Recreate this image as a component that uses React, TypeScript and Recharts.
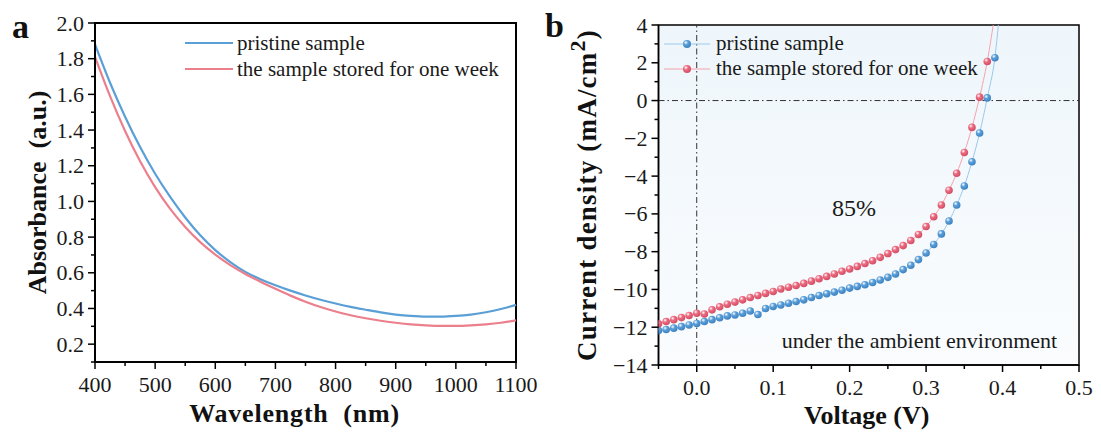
import React from "react";
import {
  LineChart,
  Line,
  XAxis,
  YAxis,
  CartesianGrid,
  ReferenceLine,
  ReferenceArea,
  Legend,
} from "recharts";

const SERIF = '"Liberation Serif", "Times New Roman", serif';

// panel a: absorbance spectra
const wavelength = [
  400, 425, 450, 475, 500, 525, 550, 575, 600, 625, 650, 675, 700, 725, 750,
  775, 800, 825, 850, 875, 900, 925, 950, 975, 1000, 1025, 1050, 1075, 1100,
];
const absPristine = [
  1.88, 1.665, 1.475, 1.305, 1.155, 1.025, 0.91, 0.81, 0.727, 0.66, 0.605,
  0.564, 0.53, 0.5, 0.473, 0.449, 0.428, 0.409, 0.393, 0.378, 0.366, 0.358,
  0.354, 0.354, 0.358, 0.366, 0.379, 0.397, 0.42,
];
const absStored = [
  1.81, 1.59, 1.395, 1.225, 1.08, 0.958, 0.857, 0.772, 0.702, 0.643, 0.593,
  0.55, 0.51, 0.472, 0.438, 0.408, 0.383, 0.362, 0.345, 0.331, 0.32, 0.311,
  0.305, 0.302, 0.302, 0.305, 0.311, 0.32, 0.333,
];
const wlTicks = [
  400, 450, 500, 550, 600, 650, 700, 750, 800, 850, 900, 950, 1000, 1050, 1100,
];
const absTicks = [
  0.1, 0.2, 0.3, 0.4, 0.5, 0.6, 0.7, 0.8, 0.9, 1.0, 1.1, 1.2, 1.3, 1.4, 1.5, 1.6,
  1.7, 1.8, 1.9, 2.0,
];

// panel b: J-V curves
const voltage = [
  -0.05, -0.04, -0.03, -0.02, -0.01, 0.0, 0.01, 0.02, 0.03, 0.04, 0.05, 0.06,
  0.07, 0.08, 0.09, 0.1, 0.11, 0.12, 0.13, 0.14, 0.15, 0.16, 0.17, 0.18, 0.19,
  0.2, 0.21, 0.22, 0.23, 0.24, 0.25, 0.26, 0.27, 0.28, 0.29, 0.3, 0.31, 0.32,
  0.33, 0.34, 0.35, 0.36, 0.37, 0.38, 0.39,
];
const jPristine = [
  -12.18, -12.12, -12.05, -11.97, -11.88, -11.8, -11.7, -11.6, -11.5, -11.4,
  -11.35, -11.26, -11.14, -11.33, -11.01, -10.9, -10.82, -10.73, -10.64, -10.55,
  -10.43, -10.32, -10.23, -10.14, -10.04, -9.93, -9.84, -9.75, -9.63, -9.5,
  -9.36, -9.18, -8.95, -8.72, -8.42, -8.07, -7.62, -7.06, -6.38, -5.53, -4.52,
  -3.24, -1.72, 0.14, 2.27,
];
const jStored = [
  -11.82, -11.7, -11.6, -11.49, -11.38, -11.26, -11.3, -11.08, -10.92, -10.78,
  -10.67, -10.55, -10.43, -10.32, -10.21, -10.11, -9.98, -9.88, -9.79, -9.68,
  -9.56, -9.43, -9.31, -9.18, -9.04, -8.92, -8.78, -8.63, -8.48, -8.3, -8.1,
  -7.89, -7.68, -7.41, -7.09, -6.67, -6.15, -5.53, -4.75, -3.85, -2.75, -1.42,
  0.18, 2.07,
];
// where the fitted lines leave the top of the frame
const pristineTail = { v: 0.4, j: 6.6 };
const storedTail = { v: 0.39, j: 4.6 };
const vTicks = [
  -0.05, 0, 0.05, 0.1, 0.15, 0.2, 0.25, 0.3, 0.35, 0.4, 0.45, 0.5,
];
const jTicks = [
  -14, -13, -12, -11, -10, -9, -8, -7, -6, -5, -4, -3, -2, -1, 0, 1, 2, 3, 4,
];

const absData = wavelength.map((wl, i) => ({
  wl,
  pristine: absPristine[i],
  stored: absStored[i],
}));
const pristineIV = voltage
  .map((v, i) => ({ v, j: jPristine[i] }))
  .concat([pristineTail]);
const storedIV = voltage
  .slice(0, jStored.length)
  .map((v, i) => ({ v, j: jStored[i] }))
  .concat([storedTail]);

const seriesA = [
  { key: "pristine", name: "pristine sample", color: "#5a9fd6" },
  { key: "stored", name: "the sample stored for one week", color: "#ec7f8c" },
];
const seriesB = [
  { name: "pristine sample", line: "#9cc8ec", grad: "ballBlue", base: "#5a9fd8", edge: "#3b7fbf" },
  { name: "the sample stored for one week", line: "#f4a2ad", grad: "ballRed", base: "#ec6b81", edge: "#cf4c63" },
];

const isMajor = (v: number, step: number) =>
  Math.abs(v / step - Math.round(v / step)) < 1e-6;

const fmtNum = (v: number, digits: number) => {
  const s = Math.abs(v).toFixed(digits);
  return v < -1e-9 ? "\u2212" + s : s;
};

const XTick = (props: any) => {
  const { x, y, payload, step, digits, dy } = props;
  const major = isMajor(payload.value, step);
  return (
    <g>
      <line x1={x} x2={x} y1={y} y2={y + (major ? 7 : 4)} stroke="#000" strokeWidth={1.5} />
      {major && (
        <text x={x} y={y + dy} textAnchor="middle" fontFamily={SERIF} fontSize={22} fill="#1a1a1a">
          {fmtNum(payload.value, digits)}
        </text>
      )}
    </g>
  );
};

const YTick = (props: any) => {
  const { x, y, payload, step, digits } = props;
  const major = isMajor(payload.value, step);
  return (
    <g>
      <line x1={x} x2={x - (major ? 7 : 4)} y1={y} y2={y} stroke="#000" strokeWidth={1.5} />
      {major && (
        <text x={x - 11} y={y + 7.5} textAnchor="end" fontFamily={SERIF} fontSize={22} fill="#1a1a1a">
          {fmtNum(payload.value, digits)}
        </text>
      )}
    </g>
  );
};

const BallGradient = ({ id, base, edge }: { id: string; base: string; edge: string }) => (
  <radialGradient id={id} cx="36%" cy="32%" r="72%">
    <stop offset="0%" stopColor="#ffffff" />
    <stop offset="38%" stopColor={base} />
    <stop offset="100%" stopColor={edge} />
  </radialGradient>
);

const ballDot = (grad: string, count: number) => (props: any) => {
  const { cx, cy, index } = props;
  if (index >= count || cx == null || cy == null) return <g key={`d-${index}`} />;
  return <circle key={`d-${index}`} cx={cx} cy={cy} r={3.8} fill={`url(#${grad})`} />;
};

const LegendA = () => (
  <div style={{ fontFamily: SERIF, fontSize: 21, color: "#1a1a1a" }}>
    {seriesA.map((s) => (
      <div key={s.key} style={{ display: "flex", alignItems: "center", height: 26.3, whiteSpace: "nowrap" }}>
        <svg width={52} height={26}>
          <line x1={0} x2={48} y1={13} y2={13} stroke={s.color} strokeWidth={2.2} />
        </svg>
        <span>{s.name}</span>
      </div>
    ))}
  </div>
);

const LegendB = () => (
  <div style={{ fontFamily: SERIF, fontSize: 21, color: "#1a1a1a" }}>
    {seriesB.map((s) => (
      <div key={s.grad} style={{ display: "flex", alignItems: "center", height: 25.3, whiteSpace: "nowrap" }}>
        <svg width={52} height={26}>
          <defs>
            <BallGradient id={`${s.grad}L`} base={s.base} edge={s.edge} />
          </defs>
          <line x1={0} x2={46} y1={13} y2={13} stroke={s.line} strokeWidth={1} />
          <circle cx={23} cy={13} r={4} fill={`url(#${s.grad}L)`} />
        </svg>
        <span>{s.name}</span>
      </div>
    ))}
  </div>
);

const App: React.FC = () => {
  return (
    <div
      style={{
        position: "absolute",
        left: 0,
        top: 0,
        width: 1101,
        height: 437,
        background: "#ffffff",
        overflow: "hidden",
      }}
    >
      {/* panel a */}
      <div style={{ position: "absolute", left: 0, top: 0 }}>
        <LineChart
          width={540}
          height={437}
          data={absData}
          margin={{ top: 23, right: 24, bottom: 0, left: 0 }}
        >
          <XAxis
            dataKey="wl"
            type="number"
            domain={[400, 1100]}
            ticks={wlTicks}
            interval={0}
            tickSize={0}
            tickMargin={0}
            height={75}
            axisLine={{ stroke: "#000", strokeWidth: 2 }}
            tick={<XTick step={100} digits={0} dy={30} />}
            label={(p: any) => (
              <text
                x={p.viewBox.x + p.viewBox.width / 2 - 11}
                y={p.viewBox.y + 59.5}
                textAnchor="middle"
                fontFamily={SERIF}
                fontWeight="bold"
                fontSize={26}
                letterSpacing={0.8}
                fill="#111"
              >
                {"Wavelength\u00a0\u00a0(nm)"}
              </text>
            )}
          />
          <YAxis
            type="number"
            domain={[0.1, 2.0]}
            allowDataOverflow
            ticks={absTicks}
            interval={0}
            tickSize={0}
            tickMargin={0}
            width={95}
            axisLine={{ stroke: "#000", strokeWidth: 2 }}
            tick={<YTick step={0.2} digits={1} />}
            label={(p: any) => {
              const cy = p.viewBox.y + p.viewBox.height / 2;
              return (
                <text
                  x={46}
                  y={cy}
                  transform={`rotate(-90, 46, ${cy})`}
                  textAnchor="middle"
                  fontFamily={SERIF}
                  fontWeight="bold"
                  fontSize={26}
                  fill="#111"
                >
                  {"Absorbance\u00a0\u00a0(a.u.)"}
                </text>
              );
            }}
          />
          <ReferenceArea
            x1={400}
            x2={1100}
            y1={0.1}
            y2={2.0}
            fill="none"
            stroke="#000"
            strokeWidth={2}
            fillOpacity={0}
          />
          {seriesA.map((s) => (
            <Line
              key={s.key}
              type="monotone"
              dataKey={s.key}
              name={s.name}
              stroke={s.color}
              strokeWidth={2.2}
              dot={false}
              activeDot={false}
              isAnimationActive={false}
            />
          ))}
          <Legend
            layout="vertical"
            align="center"
            verticalAlign="middle"
            content={<LegendA />}
            wrapperStyle={{ left: 185, top: 30, width: 330 }}
          />
          <text x={12} y={37.5} fontFamily={SERIF} fontWeight="bold" fontSize={34} fill="#111">
            a
          </text>
        </LineChart>
      </div>

      {/* panel b */}
      <div style={{ position: "absolute", left: 540, top: 0 }}>
        <LineChart
          width={561}
          height={437}
          margin={{ top: 25, right: 22, bottom: 0, left: 0 }}
        >
          <defs>
            <linearGradient id="bgB" x1="0" y1="0" x2="0" y2="1">
              <stop offset="0%" stopColor="#eef6fb" />
              <stop offset="100%" stopColor="#fafcfe" />
            </linearGradient>
            {seriesB.map((s) => (
              <BallGradient key={s.grad} id={s.grad} base={s.base} edge={s.edge} />
            ))}
          </defs>
          <CartesianGrid horizontal={false} vertical={false} fill="url(#bgB)" />
          <XAxis
            dataKey="v"
            type="number"
            domain={[-0.05, 0.5]}
            allowDataOverflow
            ticks={vTicks}
            interval={0}
            tickSize={0}
            tickMargin={0}
            height={72}
            axisLine={{ stroke: "#000", strokeWidth: 1.5 }}
            tick={<XTick step={0.1} digits={1} dy={29.5} />}
            label={(p: any) => (
              <text
                x={p.viewBox.x + p.viewBox.width / 2 - 2}
                y={p.viewBox.y + 58.5}
                textAnchor="middle"
                fontFamily={SERIF}
                fontWeight="bold"
                fontSize={26}
                fill="#111"
              >
                Voltage (V)
              </text>
            )}
          />
          <YAxis
            dataKey="j"
            type="number"
            domain={[-14, 4]}
            allowDataOverflow
            ticks={jTicks}
            interval={0}
            tickSize={0}
            tickMargin={0}
            width={118.5}
            axisLine={{ stroke: "#000", strokeWidth: 1.5 }}
            tick={<YTick step={2} digits={0} />}
            label={(p: any) => {
              const cy = p.viewBox.y + p.viewBox.height / 2;
              return (
                <text
                  x={56}
                  y={cy}
                  transform={`rotate(-90, 56, ${cy})`}
                  textAnchor="middle"
                  fontFamily={SERIF}
                  fontWeight="bold"
                  fontSize={27}
                  letterSpacing={1.2}
                  fill="#111"
                >
                  Current density (mA/cm
                  <tspan dy={-11} fontSize={22}>
                    2
                  </tspan>
                  <tspan dy={11}>)</tspan>
                </text>
              );
            }}
          />
          <ReferenceArea
            x1={-0.05}
            x2={0.5}
            y1={-14}
            y2={4}
            fill="none"
            fillOpacity={0}
            stroke="#000"
            strokeWidth={1.5}
          />
          <ReferenceLine y={0} stroke="#333" strokeWidth={1} strokeDasharray="6 3 1.5 3" />
          <ReferenceLine x={0} stroke="#333" strokeWidth={1} strokeDasharray="6 3 1.5 3" />
          <Line
            data={pristineIV}
            type="monotone"
            dataKey="j"
            name={seriesB[0].name}
            stroke={seriesB[0].line}
            strokeWidth={1}
            dot={ballDot("ballBlue", jPristine.length)}
            activeDot={false}
            isAnimationActive={false}
          />
          <Line
            data={storedIV}
            type="monotone"
            dataKey="j"
            name={seriesB[1].name}
            stroke={seriesB[1].line}
            strokeWidth={1}
            dot={ballDot("ballRed", jStored.length)}
            activeDot={false}
            isAnimationActive={false}
          />
          <Legend
            layout="vertical"
            align="center"
            verticalAlign="middle"
            content={<LegendB />}
            wrapperStyle={{ left: 124, top: 31, width: 330 }}
          />
          <text x={314} y={216} textAnchor="middle" fontFamily={SERIF} fontSize={24} fill="#1a1a1a">
            85%
          </text>
          <text x={241.7} y={348} fontFamily={SERIF} fontSize={22} fill="#1a1a1a">
            under the ambient environment
          </text>
          <text x={5} y={37} fontFamily={SERIF} fontWeight="bold" fontSize={34} fill="#111">
            b
          </text>
        </LineChart>
      </div>
    </div>
  );
};

export default App;
